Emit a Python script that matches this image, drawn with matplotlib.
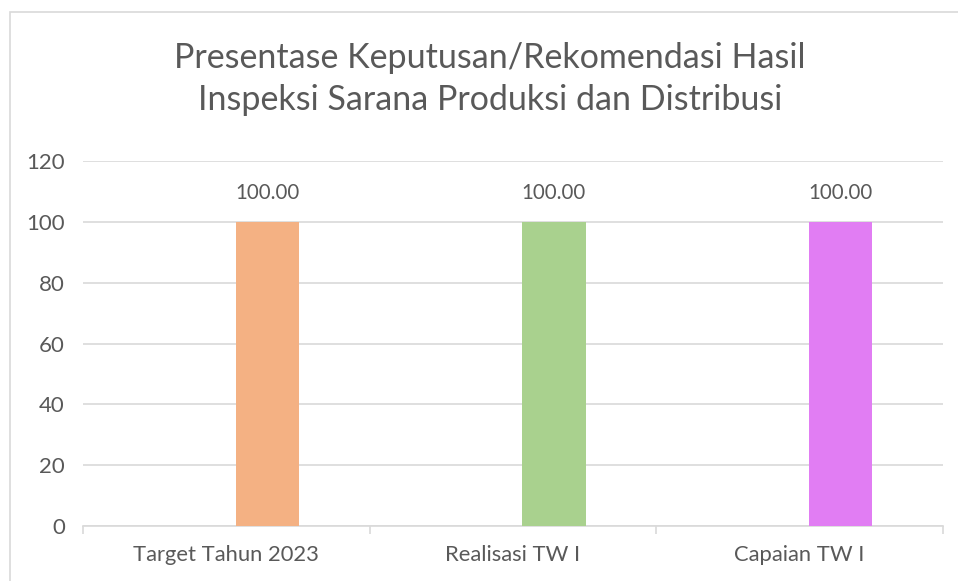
# -*- coding: utf-8 -*-
"""
Presentase Keputusan/Rekomendasi Hasil Inspeksi Sarana Produksi dan Distribusi
Bar chart (Target / Realisasi / Capaian) -> out.png
"""

import matplotlib
matplotlib.use("Agg")
import matplotlib.pyplot as plt
from matplotlib.patches import Rectangle

# ─────────────────────────────────────────────────────────────
# DONNÉES
# ─────────────────────────────────────────────────────────────

CATEGORIES = ["Target Tahun 2023", "Realisasi TW I", "Capaian TW I"]
VALUES = [100.00, 100.00, 100.00]
BAR_COLORS = ["#F4B183", "#A9D18E", "#E17DF3"]
Y_TICKS = [0, 20, 40, 60, 80, 100, 120]
TITLE = "Presentase Keputusan/Rekomendasi Hasil\nInspeksi Sarana Produksi dan Distribusi"

TEXT_COLOR = "#595959"
GRID_COLOR = "#D9D9D9"
FONT = ["Lato", "DejaVu Sans"]

W, H, DPI = 958, 581, 100


def main():
    plt.rcParams["font.family"] = FONT

    fig = plt.figure(figsize=(W / DPI, H / DPI), dpi=DPI)
    fig.patch.set_facecolor("white")

    # cadre du graphique (coupé à droite et en bas)
    fig.patches.append(Rectangle((10 / W, -0.1), 1.2, 1 - 12 / H + 0.1,
                                 transform=fig.transFigure, fill=False,
                                 edgecolor=GRID_COLOR, lw=1.2))

    # zone de tracé
    left, right, top, bottom = 83, 943, 161, 526
    ax = fig.add_axes([left / W, 1 - bottom / H, (right - left) / W, (bottom - top) / H])

    x = list(range(len(CATEGORIES)))
    offset = 0.143
    ax.bar([i + offset for i in x], VALUES, width=0.22, color=BAR_COLORS, zorder=3)

    for i, v in zip(x, VALUES):
        ax.annotate(f"{v:.2f}", (i + offset, v), xytext=(0, 21), textcoords="offset points",
                    ha="center", va="center", fontsize=14.8, color=TEXT_COLOR)

    ax.set_xlim(-0.5, len(CATEGORIES) - 0.5)
    ax.set_ylim(0, 120)
    ax.set_yticks(Y_TICKS)
    ax.set_yticklabels([str(t) for t in Y_TICKS], fontsize=16, color=TEXT_COLOR)
    ax.tick_params(axis="y", length=0, pad=13)

    ax.set_xticks(x)
    ax.set_xticklabels(CATEGORIES, fontsize=15.8, color=TEXT_COLOR)
    ax.tick_params(axis="x", which="major", length=0, pad=14)
    ax.set_xticks([-0.5, 0.5, 1.5, 2.5], minor=True)
    ax.tick_params(axis="x", which="minor", length=6, color=GRID_COLOR, width=1.2)

    ax.grid(axis="y", color=GRID_COLOR, lw=1.2, zorder=0)
    for side in ["top", "right", "left"]:
        ax.spines[side].set_visible(False)
    ax.spines["bottom"].set_color(GRID_COLOR)
    ax.spines["bottom"].set_linewidth(1.2)

    fig.text(490 / W, 1 - 79 / H, TITLE, ha="center", va="center",
             fontsize=24.5, color=TEXT_COLOR, linespacing=1.35)

    fig.savefig("out.png", dpi=DPI)
    plt.close(fig)


if __name__ == "__main__":
    main()
